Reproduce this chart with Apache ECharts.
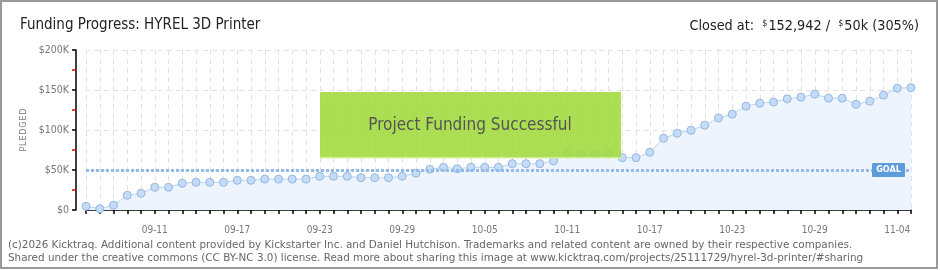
<!DOCTYPE html>
<html><head><meta charset="utf-8">
<script src="https://cdn.jsdelivr.net/npm/echarts@6/dist/echarts.min.js"></script>
<style>html,body{margin:0;padding:0;background:#fff}#c{width:940px;height:270px}</style>
</head><body><div id="c"></div>
<script>
const dates = ['09-06','09-07','09-08','09-09','09-10','09-11','09-12','09-13','09-14','09-15',
'09-16','09-17','09-18','09-19','09-20','09-21','09-22','09-23','09-24','09-25',
'09-26','09-27','09-28','09-29','09-30','10-01','10-02','10-03','10-04','10-05',
'10-06','10-07','10-08','10-09','10-10','10-11','10-12','10-13','10-14','10-15',
'10-16','10-17','10-18','10-19','10-20','10-21','10-22','10-23','10-24','10-25',
'10-26','10-27','10-28','10-29','10-30','10-31','11-01','11-02','11-03','11-04','11-05'];
const pledged = [4600,1600,5900,18400,20900,28400,28400,33400,34600,34600,
34600,37100,37100,38600,38600,38600,38600,42100,42100,42100,
40400,40400,40400,42100,45900,50900,53400,51600,53400,53400,
53400,57900,57900,57900,61300,70000,70000,70000,70000,65400,
65400,72100,89600,95900,99600,106000,115000,119800,129800,133500,
135000,139000,141000,144800,139800,139800,132100,136000,143500,152300,152942];
const goal = 50000;
const xTickLabels = ['09-11','09-17','09-23','09-29','10-05','10-11','10-17','10-23','10-29','11-04'];
const yTickLabels = {0:'$0',50000:'$50K',100000:'$100K',150000:'$150K',200000:'$200K'};
const titleText = 'Funding Progress: HYREL 3D Printer';
const closedText = ['152,942','50k','305%'];
const footer1 = '(c)2026 Kicktraq. Additional content provided by Kickstarter Inc. and Daniel Hutchison. Trademarks and related content are owned by their respective companies.';
const footer2 = 'Shared under the creative commons (CC BY-NC 3.0) license. Read more about sharing this image at www.kicktraq.com/projects/25111729/hyrel-3d-printer/#sharing';

const FONT = '"DejaVu Sans Condensed","Liberation Sans Narrow",Roboto,sans-serif';
const FFONT = '"DejaVu Sans",Roboto,sans-serif';
const chart = echarts.init(document.getElementById('c'), null, {renderer:'canvas'});
const option = {
  animation:false,
  backgroundColor:'#fff',
  title:[
    {text:titleText, left:15, top:13, textStyle:{fontFamily:FONT, fontSize:15, fontWeight:'normal', color:'#222'}},
    {text:'Closed at:  {s|$}'+closedText[0]+' /  {s|$}'+closedText[1]+' ('+closedText[2]+')', right:16, top:14,
     textStyle:{fontFamily:FONT, fontSize:14.3, fontWeight:'normal', color:'#222',
       rich:{s:{fontFamily:FONT, fontSize:9, color:'#222', verticalAlign:'top', padding:[0,1,6,0]}}}}
  ],
  grid:{left:86, right:29, top:50, bottom:60, containLabel:false},
  xAxis:{
    type:'category', data:dates, boundaryGap:false, offset:10,
    axisLine:{lineStyle:{color:'#000', width:1.5}},
    axisTick:{show:true, interval:0, length:4, lineStyle:{color:'#000', width:1.5}},
    axisLabel:{interval:0, formatter:v=>xTickLabels.includes(v)?v:'', color:'#777', fontFamily:FONT, fontSize:10, margin:5},
    splitLine:{show:true, interval:0, lineStyle:{color:'#e2e2e2', type:[5,4]}}
  },
  yAxis:{
    type:'value', min:0, max:200000, interval:50000, offset:10,
    name:'P\u200aL\u200aE\u200aD\u200aG\u200aE\u200aD', nameLocation:'middle', nameGap:47, nameRotate:90,
    nameTextStyle:{color:'#777', fontFamily:FONT, fontSize:9},
    axisLine:{show:true, lineStyle:{color:'#000', width:1.5}},
    axisTick:{show:true, length:4, lineStyle:{color:'#000', width:1.5}},
    minorTick:{show:true, splitNumber:2, length:4, lineStyle:{color:'#d00', width:1.5}},
    axisLabel:{formatter:v=>yTickLabels[v]||'', color:'#777', fontFamily:FONT, fontSize:10.5, margin:7},
    splitLine:{show:true, lineStyle:{color:'#e2e2e2', type:[5,4]}}
  },
  series:[{
    type:'line', data:pledged, symbol:'circle', symbolSize:8,
    itemStyle:{color:'#c4dcf8', borderColor:'#94b6df', borderWidth:1},
    lineStyle:{color:'#b8d4f2', width:1},
    areaStyle:{color:'#edf4fd', opacity:1},
    markLine:{silent:true, symbol:'none', label:{show:false},
      lineStyle:{color:'#94bbe7', width:3, type:[3,2]},
      data:[{yAxis:goal}]}
  }]
};
chart.setOption(option);

const gp = chart.convertToPixel({gridIndex:0},[dates.length-1, goal]);
chart.setOption({graphic:[
  {type:'rect', z:100, shape:{x:320, y:92, width:301, height:66}, style:{fill:'rgba(162,218,64,0.9)'}},
  {type:'rect', z:100, shape:{x:320, y:157, width:301, height:1.5}, style:{fill:'#d3ee9c'}},
  {type:'text', z:101, x:470, y:126, style:{text:'Project Funding Successful', font:'17px '+FONT, fill:'#555',
    align:'center', verticalAlign:'middle', textShadowColor:'#fff', textShadowOffsetX:1, textShadowOffsetY:1, textShadowBlur:0}},
  {type:'rect', z:100, shape:{x:gp[0]-39, y:gp[1]-7, width:33, height:14, r:1}, style:{fill:'#5d9cdb'}},
  {type:'text', z:101, x:gp[0]-22.5, y:gp[1], style:{text:'GOAL', font:'bold 9px '+FONT, fill:'#fff', align:'center', verticalAlign:'middle'}},
  {type:'text', z:10, x:8, y:245, style:{text:footer1, font:'10.4px '+FFONT, fill:'#666', verticalAlign:'middle'}},
  {type:'text', z:10, x:8, y:258, style:{text:footer2, font:'10.4px '+FFONT, fill:'#666', verticalAlign:'middle'}},
  {type:'rect', z:200, shape:{x:1, y:1, width:936, height:267}, style:{fill:null, stroke:'#999', lineWidth:2}}
]});
</script></body></html>
